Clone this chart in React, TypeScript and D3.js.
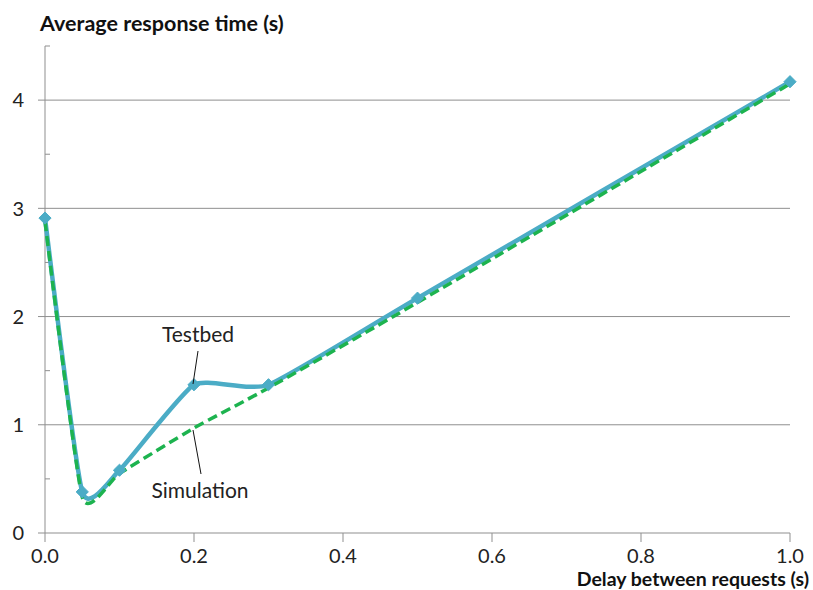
import React from "react";
import * as d3 from "d3";

// Delay between requests (s)
const delays = [0, 0.05, 0.1, 0.2, 0.3, 0.5, 1.0];
// Average response time (s), measured on the testbed
const testbed = [2.91, 0.38, 0.58, 1.37, 1.37, 2.17, 4.17];
// Average response time (s), simulated
const simulation = [2.88, 0.33, 0.55, 0.97, 1.34, 2.13, 4.15];

const xTicks = [0, 0.2, 0.4, 0.6, 0.8, 1.0];
const yTicks = [0, 1, 2, 3, 4];
const yMinorTicks = [0.5, 1.5, 2.5, 3.5, 4.5];

const W = 813;
const H = 590;
const FONT = "Lato, 'Open Sans', sans-serif";

export default function App() {
  const x = d3.scaleLinear().domain([0, 1]).range([45, 790]);
  const y = d3.scaleLinear().domain([0, 4.5]).range([533, 46]);

  const line = d3
    .line<number>()
    .x((_, i) => x(delays[i]))
    .y((v) => y(v))
    .curve(d3.curveCardinal.tension(0.5));

  const gridColor = "#8f8f8f";
  const diamond = d3.symbol().type(d3.symbolDiamond2).size(95)() as string;

  return (
    <svg
      width={W}
      height={H}
      style={{ position: "absolute", left: 0, top: 0, background: "#fff" }}
    >
      {/* horizontal gridlines with outer tick stubs */}
      {yTicks.map((t) => (
        <line
          key={"g" + t}
          x1={38}
          x2={790}
          y1={y(t)}
          y2={y(t)}
          stroke={gridColor}
          strokeWidth={1}
        />
      ))}
      {yMinorTicks.map((t) => (
        <line
          key={"m" + t}
          x1={45}
          x2={50}
          y1={y(t)}
          y2={y(t)}
          stroke={gridColor}
          strokeWidth={1}
        />
      ))}
      {/* axes */}
      <line x1={45} x2={45} y1={y(4.5)} y2={533} stroke={gridColor} strokeWidth={1} />
      {xTicks.map((t) => (
        <line
          key={"xt" + t}
          x1={x(t)}
          x2={x(t)}
          y1={533}
          y2={542}
          stroke={gridColor}
          strokeWidth={1}
        />
      ))}
      {/* tick labels */}
      {yTicks.map((t) => (
        <text
          key={"yl" + t}
          x={24}
          y={y(t)}
          dy="0.36em"
          textAnchor="end"
          fontFamily={FONT}
          fontSize={20}
          fill="#222"
        >
          {t}
        </text>
      ))}
      {xTicks.map((t) => (
        <text
          key={"xl" + t}
          x={x(t)}
          y={563}
          textAnchor="middle"
          fontFamily={FONT}
          fontSize={20}
          fill="#222"
        >
          {t.toFixed(1)}
        </text>
      ))}
      {/* axis titles */}
      <text x={40} y={31} fontFamily={FONT} fontWeight="bold" fontSize={21.5} fill="#111">
        Average response time (s)
      </text>
      <text
        x={809}
        y={586}
        textAnchor="end"
        fontFamily={FONT}
        fontWeight="bold"
        fontSize={19.5}
        fill="#111"
      >
        Delay between requests (s)
      </text>

      {/* series */}
      <path
        d={line(testbed) as string}
        fill="none"
        stroke="#4bacc6"
        strokeWidth={4.5}
      />
      <path
        d={line(simulation) as string}
        fill="none"
        stroke="#1db34f"
        strokeWidth={3.5}
        strokeDasharray="10 5"
      />
      {testbed.map((v, i) => (
        <path
          key={"d" + i}
          d={diamond}
          transform={`translate(${x(delays[i])},${y(v)})`}
          fill="#4bacc6"
          stroke="#4bacc6"
          strokeWidth={1}
        />
      ))}

      {/* callouts */}
      <line x1={198} y1={351} x2={193} y2={384} stroke="#111" strokeWidth={1} />
      <text x={198} y={342} textAnchor="middle" fontFamily={FONT} fontSize={21} fill="#222">
        Testbed
      </text>
      <line x1={193} y1={430} x2={201} y2={474} stroke="#111" strokeWidth={1} />
      <text x={200} y={498} textAnchor="middle" fontFamily={FONT} fontSize={21} fill="#222">
        Simulation
      </text>
    </svg>
  );
}
